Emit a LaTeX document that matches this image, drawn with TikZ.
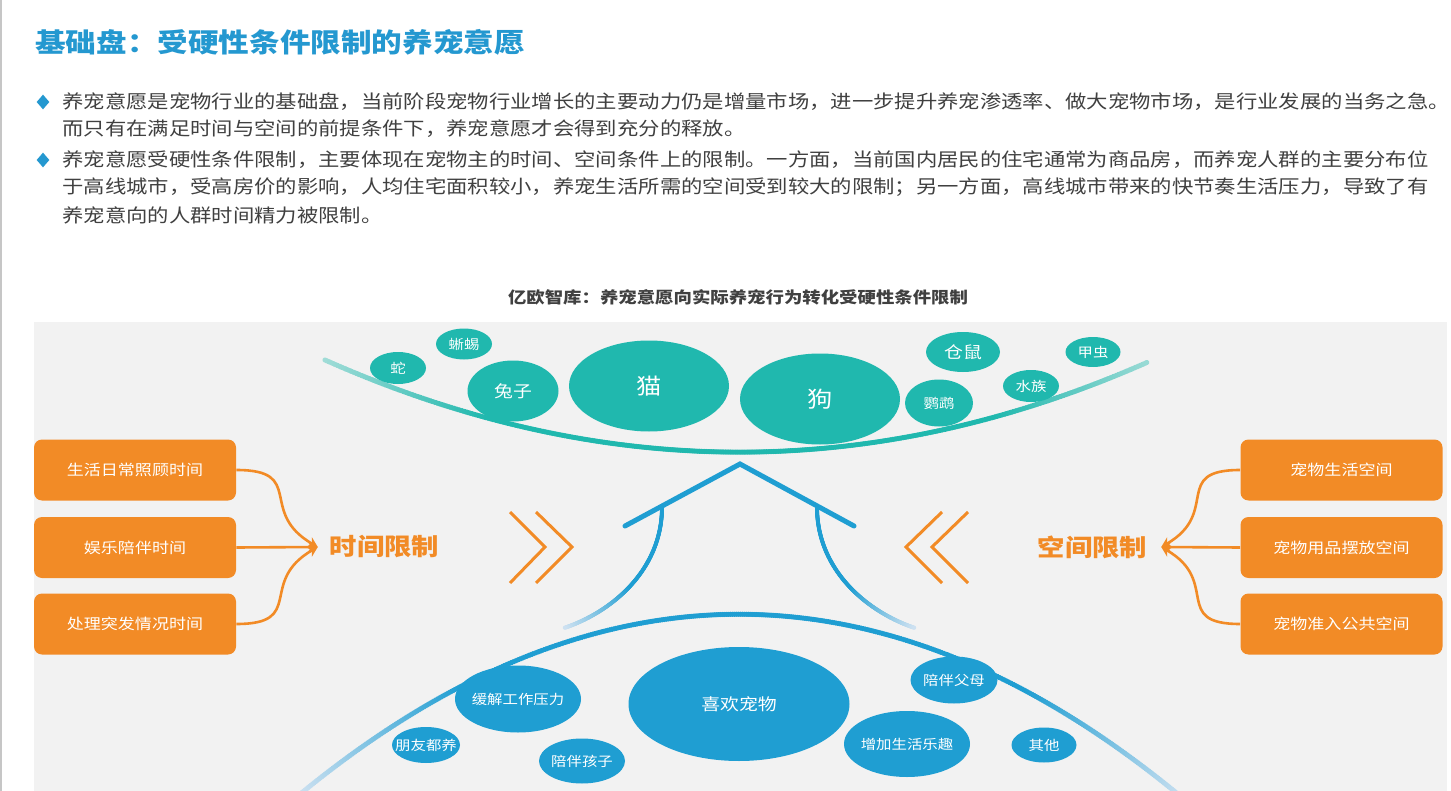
\documentclass[tikz,border=0pt]{standalone}
\usepackage{fontspec}
\setmainfont{Noto Sans CJK SC}[FakeStretch=1.15]
\usetikzlibrary{shapes.geometric,arrows.meta,decorations.markings}

\definecolor{titleblue}{RGB}{36,152,208}
\definecolor{txtgray}{RGB}{64,64,64}
\definecolor{panelgray}{RGB}{242,242,242}
\definecolor{tealc}{RGB}{32,184,174}
\definecolor{teallight}{RGB}{160,220,215}
\definecolor{bubblue}{RGB}{31,158,210}
\definecolor{bluelight}{RGB}{205,225,241}
\definecolor{orangec}{RGB}{242,139,38}

\begin{document}
\begin{tikzpicture}[x=0.5pt, y=-0.5pt,
    txt/.style={anchor=west, inner sep=0pt, text=txtgray, font=\fontsize{9.28}{12}\selectfont},
    bul/.style={diamond, fill=titleblue, inner sep=0pt, minimum width=6.5pt, minimum height=7.5pt},
    bub/.style={ellipse, inner sep=0pt, text=white,
                execute at begin node={\hbox to 0pt\bgroup\hss},
                execute at end node={\hss\egroup}},
    tbub/.style={bub, fill=tealc},
    bbub/.style={bub, fill=bubblue},
    small/.style={font=\fontsize{6.7}{8}\selectfont},
    mid/.style={font=\fontsize{8.2}{10}\selectfont},
    obox/.style={fill=orangec, rounded corners=4pt, text=white, inner sep=0pt,
                 minimum width=101pt, minimum height=30.5pt, font=\fontsize{7.4}{9}\selectfont},
    olab/.style={text=orangec, inner sep=0pt, outer sep=6pt, font=\fontsize{11.9}{14}\selectfont\bfseries},
    olink/.style={orangec, line width=1.3pt, -{Stealth[length=5pt,width=5.5pt]}},
    chev/.style={orangec, line width=1.5pt, line join=miter},
    roof/.style={bubblue, line width=2.5pt, line cap=round, line join=miter},
    gradsym/.style n args={3}{decoration={markings,
        mark=between positions 0 and 1 step 0.002 with {
          \pgfmathsetmacro\gfr{\pgfkeysvalueof{/pgf/decoration/mark info/distance from start}/\pgfdecoratedpathlength}
          \pgfmathtruncatemacro\gpct{100*min(1,2.5*(1-abs(2*\gfr-1)))}
          \fill[#1!\gpct!#2] (0,0) circle (#3);}}, decorate},
    gradend/.style n args={3}{decoration={markings,
        mark=between positions 0 and 1 step 0.003 with {
          \pgfmathsetmacro\gfr{\pgfkeysvalueof{/pgf/decoration/mark info/distance from start}/\pgfdecoratedpathlength}
          \pgfmathtruncatemacro\gpct{100*min(1,2.2*(1-\gfr))}
          \fill[#1!\gpct!#2] (0,0) circle (#3);}}, decorate},
  ]
  \useasboundingbox (0,0) rectangle (1451,791);
  \fill[white] (0,0) rectangle (1451,791);
  \draw[gray!45, line width=0.8pt] (1,0) -- (1,791);

  % title and text
  \node[anchor=west, inner sep=0pt, text=titleblue, font=\fontsize{13.3}{16}\selectfont\bfseries] (title) at (35,42)
    {基础盘：受硬性条件限制的养宠意愿};
  \node[bul] (b1) at (43,102) {};
  \node[txt] (l1) at (62,102) {养宠意愿是宠物行业的基础盘，当前阶段宠物行业增长的主要动力仍是增量市场，进一步提升养宠渗透率、做大宠物市场，是行业发展的当务之急。};
  \node[txt] (l2) at (62,129) {而只有在满足时间与空间的前提条件下，养宠意愿才会得到充分的释放。};
  \node[bul] (b2) at (43,160) {};
  \node[txt] (l3) at (62,160) {养宠意愿受硬性条件限制，主要体现在宠物主的时间、空间条件上的限制。一方面，当前国内居民的住宅通常为商品房，而养宠人群的主要分布位};
  \node[txt] (l4) at (62,187) {于高线城市，受高房价的影响，人均住宅面积较小，养宠生活所需的空间受到较大的限制；另一方面，高线城市带来的快节奏生活压力，导致了有};
  \node[txt] (l5) at (62,215) {养宠意向的人群时间精力被限制。};

  % chart title and panel
  \node[text=txtgray, inner sep=0pt, font=\fontsize{8}{10}\selectfont\bfseries] (cap) at (738,297)
    {亿欧智库：养宠意愿向实际养宠行为转化受硬性条件限制};
  \fill[panelgray] (34,322) rectangle (1447,791);

  % arcs
  \path[gradsym={tealc}{teallight}{1.3pt}] (325,360) .. controls (600,482) and (874,483) .. (1148,362);
  \path[gradsym={bubblue}{bluelight}{1.3pt}] (299,795) .. controls (592,554) and (886,554) .. (1179,795);

  % pets
  \node[tbub, small, minimum width=28pt, minimum height=16pt] (snake) at (398,368) {蛇};
  \node[tbub, small, minimum width=28pt, minimum height=15.5pt] (lizard) at (464,344) {蜥蜴};
  \node[tbub, mid, minimum width=45.5pt, minimum height=30.5pt] (rabbit) at (513,391) {兔子};
  \node[tbub, font=\fontsize{11}{13}\selectfont, minimum width=80pt, minimum height=45.5pt] (cat) at (649,386) {猫};
  \node[tbub, font=\fontsize{11}{13}\selectfont, minimum width=80pt, minimum height=45.5pt] (dog) at (820,399) {狗};
  \node[tbub, mid, minimum width=37pt, minimum height=20pt] (hamster) at (963,352) {仓鼠};
  \node[tbub, small, minimum width=34pt, minimum height=23.5pt] (parrot) at (939,403) {鹦鹉};
  \node[tbub, small, minimum width=28pt, minimum height=16pt] (fish) at (1031,386) {水族};
  \node[tbub, small, minimum width=27.5pt, minimum height=15pt] (beetle) at (1093,352) {甲虫};

  % reasons
  \node[bbub, mid, minimum width=110.5pt, minimum height=57pt] (like) at (739,704) {喜欢宠物};
  \node[bbub, small, minimum width=63pt, minimum height=33.5pt] (stress) at (518,699) {缓解工作压力};
  \node[bbub, small, minimum width=34pt, minimum height=18pt] (friends) at (426,745) {朋友都养};
  \node[bbub, small, minimum width=43pt, minimum height=22.5pt] (kids) at (582,761) {陪伴孩子};
  \node[bbub, small, minimum width=43.5pt, minimum height=23.5pt] (parents) at (954,680) {陪伴父母};
  \node[bbub, small, minimum width=63pt, minimum height=33pt] (fun) at (907,744) {增加生活乐趣};
  \node[bbub, small, minimum width=32.5pt, minimum height=17.5pt] (other) at (1044,745) {其他};

  % arrow up
  \path[gradend={bubblue}{bluelight}{1pt}] (662,507) .. controls (662,570) and (612,612) .. (564,628);
  \path[gradend={bubblue}{bluelight}{1pt}] (817,507) .. controls (817,570) and (867,612) .. (915,628);
  \draw[roof] (625,526) -- (740,464) -- (854,526);

  % time
  \node[obox] (tb1) at (135,470) {生活日常照顾时间};
  \node[obox] (tb2) at (135,547.5) {娱乐陪伴时间};
  \node[obox] (tb3) at (135,624) {处理突发情况时间};
  \node[olab] (tlim) at (384.5,547) {时间限制};
  \draw[olink] (tb1.east) to[out=0, in=150, looseness=1.6] (tlim.west);
  \draw[olink] (tb2.east) -- (tlim.west);
  \draw[olink] (tb3.east) to[out=0, in=-150, looseness=1.6] (tlim.west);
  \draw[chev] (510,512) -- (545,547) -- (510,583);
  \draw[chev] (536,512) -- (572,547) -- (536,583);

  % space
  \node[obox] (sb1) at (1341.5,470) {宠物生活空间};
  \node[obox] (sb2) at (1341.5,547.5) {宠物用品摆放空间};
  \node[obox] (sb3) at (1341.5,624) {宠物准入公共空间};
  \node[olab, outer sep=7pt] (slim) at (1092.5,547) {空间限制};
  \draw[olink] (sb1.west) to[out=180, in=30, looseness=1.6] (slim.east);
  \draw[olink] (sb2.west) -- (slim.east);
  \draw[olink] (sb3.west) to[out=180, in=-30, looseness=1.6] (slim.east);
  \draw[chev] (942,512) -- (906,547) -- (942,583);
  \draw[chev] (968,512) -- (932,547) -- (968,583);
\end{tikzpicture}
\end{document}
